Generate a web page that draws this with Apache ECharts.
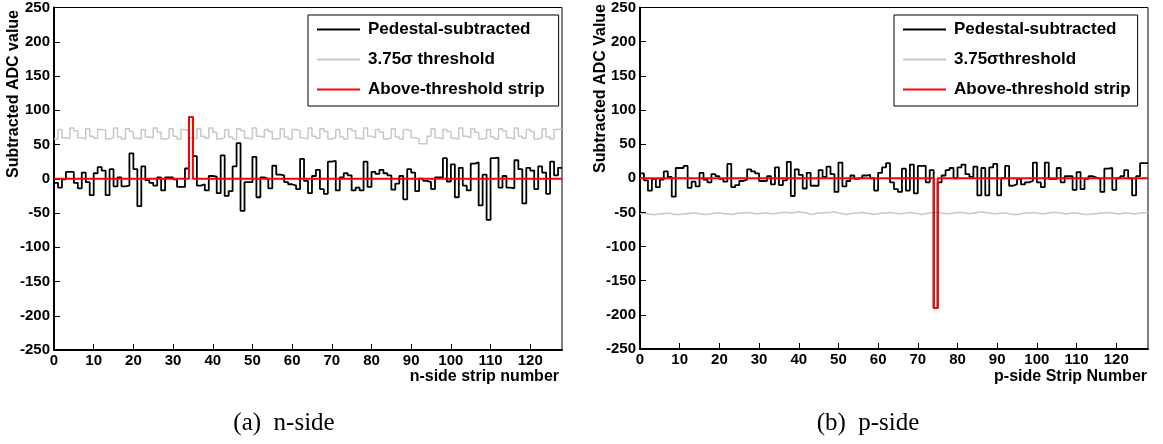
<!DOCTYPE html>
<html>
<head>
<meta charset="utf-8">
<script src="https://cdn.jsdelivr.net/npm/echarts@6/dist/echarts.min.js"></script>
<style>
html,body{margin:0;padding:0;background:#fff;}
#chart{width:1163px;height:444px;}
</style>
</head>
<body>
<div id="chart"></div>
<script>
// ---------- data ----------
const xTickLabels = [0,10,20,30,40,50,60,70,80,90,100,110,120];
const yTickLabels = [-250,-200,-150,-100,-50,0,50,100,150,200,250];

// n-side (left panel): pedestal-subtracted ADC value per strip 0..127
const nPedestalSubtracted = [
 -6,-13,-1,10,10,-6,-14,9,-5,-24,
 8,17,12,-24,14,-11,2,-11,-10,37,
 14,-40,18,-2,-6,-10,2,-17,2,2,
 -1,-12,-12,15,90,33,-10,-8,-17,4,
 3,-21,34,-25,-18,18,52,-47,-5,-5,
 32,-27,2,0,-14,19,6,5,-5,-8,
 -10,-15,29,-3,-21,4,13,-15,-22,25,
 26,-17,2,8,5,-17,-13,-17,25,-12,
 10,7,13,8,5,-16,-7,4,-30,14,
 9,-18,0,-3,-5,-15,2,2,30,-4,
 21,-27,16,-10,-17,22,24,-39,6,-60,
 30,31,-13,4,-13,-14,27,14,-36,16,
 12,-15,18,9,-22,25,5,16
];
// n-side 3.75 sigma threshold per strip
const nThreshold = [
 58,72,60,59,74,70,60,58,73,62,
 59,72,71,58,60,74,61,58,73,69,
 59,58,72,61,60,74,68,58,59,73,
 62,58,72,70,60,58,73,62,59,74,
 68,58,60,72,61,58,73,70,59,58,
 74,62,60,72,69,58,59,73,61,58,
 72,70,60,58,74,62,59,73,69,58,
 60,72,61,58,73,70,59,58,74,62,
 60,72,68,58,59,73,61,58,72,70,
 60,58,51,51,62,73,60,58,72,69,
 59,58,74,62,60,73,68,58,59,72,
 61,58,73,70,60,58,74,62,59,72,
 69,58,60,73,61,58,72,73
];
const nAboveStrips = [34];
const nAboveValues = [90];

// p-side (right panel)
const pPedestalSubtracted = [
 7,-3,-18,-1,-13,-2,10,2,-27,15,
 15,18,-14,-5,-12,8,-2,-6,6,3,
 -1,-5,21,-13,-10,-4,-2,13,10,7,
 -4,-4,3,-9,16,-10,-3,24,-26,13,
 5,-15,8,-11,-11,12,2,17,6,-20,
 23,-12,-4,4,-1,1,4,5,0,-18,
 8,16,22,-6,-16,-20,14,-18,20,-22,
 18,18,-6,12,-190,-6,4,12,15,0,
 16,20,6,2,17,-25,15,-25,16,21,
 -25,0,18,-11,-9,-1,-9,-6,-4,23,
 -6,-13,23,-1,-1,15,-6,3,3,-17,
 9,-16,-1,3,1,-1,-20,14,15,-17,
 0,3,12,0,-25,3,22,22
];
const pThreshold = [
 -52,-52,-53,-53,-52,-52,-51,-52,-53,-53,
 -52,-52,-51,-51,-52,-53,-53,-52,-51,-51,
 -52,-52,-53,-52,-51,-51,-50,-51,-52,-52,
 -51,-51,-52,-52,-51,-50,-50,-51,-50,-49,
 -50,-51,-53,-52,-51,-51,-50,-50,-49,-51,
 -52,-53,-52,-51,-51,-50,-51,-52,-53,-52,
 -51,-51,-50,-51,-52,-52,-51,-50,-51,-52,
 -53,-52,-51,-50,-50,-51,-52,-52,-51,-50,
 -50,-51,-52,-51,-50,-49,-50,-51,-52,-52,
 -51,-51,-52,-53,-53,-52,-51,-51,-50,-51,
 -52,-52,-51,-50,-50,-51,-52,-52,-51,-51,
 -52,-53,-53,-52,-52,-51,-51,-50,-51,-52,
 -52,-51,-51,-52,-52,-51,-50,-51
];
const pAboveStrips = [74];
const pAboveValues = [-190];

// ---------- helpers ----------
function histPoints(vals){
  const pts = vals.map((v,i)=>[i,v]);
  pts.push([vals.length, vals[vals.length-1]]);
  return pts;
}
function aboveSeriesValues(n, strips, values){
  const out = [];
  for(let i=0;i<n;i++){ const k=strips.indexOf(i); out.push(k>=0?values[k]:0); }
  return out;
}

const FONT = '"Liberation Sans", Arial, Helvetica, sans-serif';
const BLACK = '#000000', GRAY = '#c8c8c8', RED = '#ff0000';

function xAxisCfg(gi){
  return {
    type:'value', gridIndex:gi, min:0, max:128, interval:10,
    axisLine:{show:true, onZero:false, lineStyle:{color:'#000', width:2}},
    axisTick:{show:true, inside:true, length:6, lineStyle:{color:'#000', width:1}},
    axisLabel:{color:'#000', fontFamily:FONT, fontWeight:'bold', fontSize:15, margin:3,
      showMaxLabel:false,
      formatter:(v)=> xTickLabels.indexOf(v)>=0 ? String(v) : ''},
    splitLine:{show:false}
  };
}
function yAxisCfg(gi){
  return {
    type:'value', gridIndex:gi, min:-250, max:250, interval:50,
    axisLine:{show:true, onZero:false, lineStyle:{color:'#000', width:2}},
    axisTick:{show:true, inside:true, length:6, lineStyle:{color:'#000', width:1}},
    axisLabel:{color:'#000', fontFamily:FONT, fontWeight:'bold', fontSize:15, margin:4,
      formatter:(v)=> yTickLabels.indexOf(v)>=0 ? String(v) : ''},
    splitLine:{show:false}
  };
}
function lineSeries(name, vals, gi, color, width, z){
  return {
    name, type:'line', xAxisIndex:gi, yAxisIndex:gi,
    data: histPoints(vals), step:'end', showSymbol:false, symbol:'none',
    lineStyle:{color, width}, itemStyle:{color}, z, silent:true, animation:false
  };
}
function legendCfg(left, names, padRight){
  return {
    left, top:15, orient:'vertical', selectedMode:false,
    data:names, icon:'rect', itemWidth:43, itemHeight:2, itemGap:11,
    borderColor:'#000', borderWidth:1, borderRadius:0, backgroundColor:'#fff',
    padding:[5,padRight,7,9],
    textStyle:{color:'#000', fontFamily:FONT, fontWeight:'bold', fontSize:17, padding:[0,0,0,3], lineHeight:19}
  };
}
function txt(x,y,text,opts){
  return Object.assign({type:'text', x, y, silent:true,
    style:Object.assign({text, fill:'#000', font:'bold 16px '+FONT}, opts.style||{})}, opts.el||{});
}

const chart = echarts.init(document.getElementById('chart'), null, {renderer:'canvas'});
chart.setOption({
  animation:false,
  backgroundColor:'#ffffff',
  grid:[
    {left:54, right:601, top:6, bottom:94, show:true, borderColor:'#000', borderWidth:1, backgroundColor:'transparent'},
    {left:640, right:15, top:3, bottom:95, show:true, borderColor:'#000', borderWidth:1, backgroundColor:'transparent'}
  ],
  xAxis:[xAxisCfg(0), xAxisCfg(1)],
  yAxis:[yAxisCfg(0), yAxisCfg(1)],
  legend:[
    legendCfg(308, ['Pedestal-subtracted','3.75σ threshold','Above-threshold strip'], 14),
    legendCfg(894, ['Pedestal-subtracted','3.75σthreshold','Above-threshold strip'], 7)
  ],
  series:[
    lineSeries('3.75σ threshold', nThreshold, 0, GRAY, 1.5, 2),
    lineSeries('Pedestal-subtracted', nPedestalSubtracted, 0, BLACK, 1.8, 3),
    lineSeries('Above-threshold strip', aboveSeriesValues(128, nAboveStrips, nAboveValues), 0, RED, 2, 4),
    lineSeries('3.75σthreshold', pThreshold, 1, GRAY, 1.5, 2),
    lineSeries('Pedestal-subtracted', pPedestalSubtracted, 1, BLACK, 1.8, 3),
    lineSeries('Above-threshold strip', aboveSeriesValues(128, pAboveStrips, pAboveValues), 1, RED, 2, 4)
  ],
  graphic:[
    txt(14, 10, 'Subtracted ADC value', {el:{rotation:Math.PI/2}, style:{textAlign:'right', textVerticalAlign:'middle'}}),
    txt(601, 4, 'Subtracted ADC Value', {el:{rotation:Math.PI/2}, style:{textAlign:'right', textVerticalAlign:'middle'}}),
    txt(559, 377, 'n-side strip number', {style:{textAlign:'right', textVerticalAlign:'middle'}}),
    txt(1147, 377, 'p-side Strip Number', {style:{textAlign:'right', textVerticalAlign:'middle'}}),
    txt(284, 423, '(a)  n-side', {style:{textAlign:'center', textVerticalAlign:'middle', font:'25px "Liberation Serif", "DejaVu Serif", serif'}}),
    txt(868, 423, '(b)  p-side', {style:{textAlign:'center', textVerticalAlign:'middle', font:'25px "Liberation Serif", "DejaVu Serif", serif'}})
  ]
});
</script>
</body>
</html>
